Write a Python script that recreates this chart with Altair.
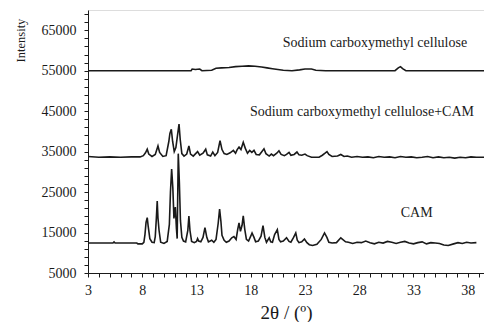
import altair as alt
import pandas as pd

# --- Sodium carboxymethyl cellulose (top trace) ---
cmc_theta = [3.0, 8.0, 12.5, 12.6, 12.9, 13.3, 13.5, 14.4, 14.8, 15.3, 16.0, 16.6, 17.2, 17.8,
             18.4, 19.0, 19.5, 20.0, 20.5, 21.0, 21.8, 22.5, 23.0, 23.6, 24.0, 24.9, 26.0,
             28.0, 31.3, 31.6, 31.8, 32.0, 32.3, 36.0, 39.5]
cmc_int = [55000, 55000, 55000, 55400, 55300, 55400, 55000, 55100, 55600, 55700, 55800, 56000, 56100, 56200,
           56100, 55900, 55700, 55500, 55300, 55100, 55000, 55200, 55400, 55400, 55100, 55000, 55000,
           55000, 55000, 55700, 56000, 55500, 55000, 55000, 55000]

# --- Sodium carboxymethyl cellulose + CAM (middle trace) ---
mix_theta = [3.0, 4.0, 5.0, 6.0, 7.0, 7.8, 8.1, 8.3, 8.46, 8.6, 8.9, 9.2, 9.45, 9.6, 9.9, 10.2, 10.45, 10.55,
             10.68, 10.8, 10.95, 11.1, 11.25, 11.39, 11.5, 11.65, 11.85, 12.1, 12.3, 12.45, 12.7, 13.1, 13.3,
             13.6, 13.85, 14.0, 14.3, 14.5, 14.7, 14.95, 15.17, 15.35, 15.55, 15.8, 16.1, 16.4, 16.6, 16.75,
             16.92, 17.1, 17.31, 17.5, 17.7, 17.9, 18.1, 18.3, 18.5, 18.8, 19.0, 19.22, 19.4, 19.7, 19.9,
             20.1, 20.4, 20.6, 20.8, 21.1, 21.3, 21.53, 21.7, 22.0, 22.26, 22.45, 22.7, 23.0, 23.2, 23.6,
             24.3, 24.6, 24.85, 25.03, 25.2, 25.5, 26.0, 26.3, 26.6, 26.9, 27.3, 27.8, 28.3, 28.8, 29.3,
             29.8, 30.3, 30.8, 31.3, 31.8, 32.3, 32.8, 33.3, 33.8, 34.3, 34.8, 35.3, 35.8, 36.3, 36.8,
             37.3, 37.8, 38.3, 38.8, 39.5]
mix_int = [33800, 33600, 33700, 33600, 33700, 33700, 34000, 34700, 35600, 34400, 33800, 34300, 36400, 34800,
           33800, 34000, 37500, 39500, 40500, 37500, 35000, 36000, 39000, 41800, 38000, 34500, 33900, 34400,
           36400, 34400, 33900, 35000, 34100, 34600, 35600, 34200, 33900, 34900, 34000, 34800, 37700, 35500,
           34500, 34300, 34700, 35300, 34600, 35500, 36100, 35500, 37300, 35800, 34600, 35300, 34800, 35300,
           34300, 34200, 34900, 35700, 34500, 33900, 34400, 34000, 34600, 35200, 34300, 34000, 34300, 34800,
           34100, 34300, 34900, 34200, 34100, 34400, 34000, 33600, 33600, 34100, 34600, 35000, 34300, 33800,
           33900, 34300, 33800, 33900, 33600, 33800, 33600, 33700, 33500, 33800, 33600, 33700, 33500, 33800,
           33600, 33700, 33500, 33600, 33800, 33500, 33700, 33500, 33600, 33400, 33600, 33500, 33700, 33600,
           33600]

# --- CAM (bottom trace) ---
cam_theta = [3.0, 5.3, 5.4, 5.5, 7.5, 7.6, 8.0, 8.15, 8.25, 8.35, 8.46, 8.55, 8.7, 8.9, 9.1, 9.2, 9.3, 9.38,
             9.45, 9.55, 9.7, 10.0, 10.3, 10.5, 10.6, 10.71, 10.82, 10.92, 11.05, 11.15, 11.22, 11.32, 11.42,
             11.52, 11.65, 11.8, 12.0, 12.2, 12.3, 12.4, 12.55, 12.8, 13.0, 13.1, 13.2, 13.4, 13.6, 13.78,
             13.95, 14.1, 14.4, 14.6, 14.8, 15.0, 15.13, 15.25, 15.35, 15.55, 15.75, 16.0, 16.25, 16.45, 16.65,
             16.8, 16.92, 17.05, 17.2, 17.31, 17.45, 17.6, 17.8, 18.0, 18.12, 18.3, 18.45, 18.7, 18.95, 19.13,
             19.3, 19.45, 19.7, 19.84, 20.0, 20.2, 20.45, 20.6, 20.75, 21.0, 21.3, 21.53, 21.7, 21.95, 22.15,
             22.29, 22.45, 22.7, 22.95, 23.18, 23.4, 23.7, 24.1, 24.5, 24.8, 25.02, 25.2, 25.5, 25.9, 26.3,
             26.74, 27.0, 27.4, 27.8, 28.2, 28.6, 29.0, 29.4, 29.8, 30.2, 30.6, 31.0, 31.4, 31.8, 32.2, 32.6,
             33.0, 33.4, 33.8, 34.2, 34.6, 35.0, 35.4, 35.8, 36.2, 36.7, 37.1, 37.5, 37.9, 38.3, 38.8, 39.5]
cam_int = [12400, 12400, 12700, 12400, 12400, 12200, 12200, 12600, 14500, 17500, 18700, 16500, 13500, 12600,
           12500, 14000, 18500, 22800, 18600, 15500, 12600, 12300, 12800, 17000, 25000, 30700, 26000, 18500,
           21300, 16000, 13500, 34500, 27500, 18000, 13800, 12900, 12700, 15500, 19100, 15500, 12800, 12500,
           12800, 13500, 12900, 12700, 13800, 16200, 13800, 12700, 13100, 12600, 13300, 17300, 20800, 17800,
           14300, 13100, 12600, 12900, 13700, 14000, 13300, 15800, 17400, 15300, 16800, 19100, 15800, 13300,
           12900, 14100, 14900, 13800, 12700, 12900, 14100, 16700, 13800, 12600, 13700, 12700, 12600, 14500,
           15700, 13300, 12700, 12900, 13700, 12800, 12600, 13800, 14900, 13100, 12500, 12700, 13400, 12500,
           12000, 11800, 12100, 13300, 14900, 13800, 12600, 12400, 12500, 13700, 12700, 12600, 12300, 12600,
           12500, 12900, 12500, 12200, 12600, 12400, 12800, 12600, 12300, 12600, 12800, 12400, 12200, 12500,
           12700, 12200, 12500, 12400, 12300, 11900, 11800, 12200, 12500, 12300, 12600, 12400, 12500]

series_names = ["Sodium carboxymethyl cellulose", "Sodium carboxymethyl cellulose+CAM", "CAM"]

# annotation texts and their anchor points (data coordinates)
label_texts = ["Sodium carboxymethyl cellulose", "Sodium carboxymethyl cellulose+CAM", "CAM"]
label_theta = [29.45, 28.25, 33.3]
label_int = [61900, 44850, 19850]

x_tick_values = list(range(3, 40))
y_tick_values = list(range(5000, 70001, 2000))

rows = []
for name, th, iv in zip(series_names, [cmc_theta, mix_theta, cam_theta], [cmc_int, mix_int, cam_int]):
    for i, (t, v) in enumerate(zip(th, iv)):
        rows.append({"series": name, "order": i, "theta": t, "intensity": v})
df = pd.DataFrame(rows)
lab = pd.DataFrame({"text": label_texts, "theta": label_theta, "intensity": label_int})

FONT = "Liberation Serif"
INK = "#1a1a1a"

xscale = alt.Scale(domain=[3, 39.5], nice=False, zero=False)
yscale = alt.Scale(domain=[5000, 70000], nice=False, zero=False)

x_axis = alt.Axis(
    values=x_tick_values, tickCount=200, format="d",
    labelExpr="(datum.value - 3) % 5 == 0 ? datum.label : ''",
    labelOverlap=False,
    grid=False, tickSize=4, labelPadding=6, labelFontSize=14, labelFont=FONT, labelColor=INK,
    title="2θ / (º)", titleFont=FONT, titleFontSize=19, titleFontWeight="normal", titleColor=INK,
    titlePadding=6, domainColor=INK, tickColor=INK, labelFlush=False,
)
y_axis = alt.Axis(
    values=y_tick_values, tickCount=200, format="d",
    labelExpr="(datum.value - 5000) % 10000 == 0 ? datum.label : ''",
    labelOverlap=False,
    grid=False, tickSize=4, labelPadding=8, labelFontSize=14, labelFont=FONT, labelColor=INK,
    title="Intensity", titleFont=FONT, titleFontSize=12.5, titleFontWeight="normal", titleColor=INK,
    titleAngle=270, titleAlign="center", titleBaseline="middle", titleX=-68, titleY=30,
    domainColor=INK, tickColor=INK, labelFlush=False,
)

lines = alt.Chart(df).mark_line(color=INK, strokeWidth=1.6, clip=True).encode(
    x=alt.X("theta:Q", scale=xscale, axis=x_axis),
    y=alt.Y("intensity:Q", scale=yscale, axis=y_axis),
    detail="series:N",
    order="order:Q",
)

texts = alt.Chart(lab).mark_text(font=FONT, fontSize=14, color=INK, align="center", baseline="middle").encode(
    x=alt.X("theta:Q", scale=xscale, axis=x_axis),
    y=alt.Y("intensity:Q", scale=yscale, axis=y_axis),
    text="text:N",
)

chart = (lines + texts).properties(
    width=396, height=263,
    autosize=alt.AutoSizeParams(type="none"),
    padding={"left": 88, "top": 10, "right": 0, "bottom": 49},
).configure_view(stroke=None).configure(background="white", font=FONT)

chart.save("out.html", embed_options={"renderer": "svg", "actions": False})
